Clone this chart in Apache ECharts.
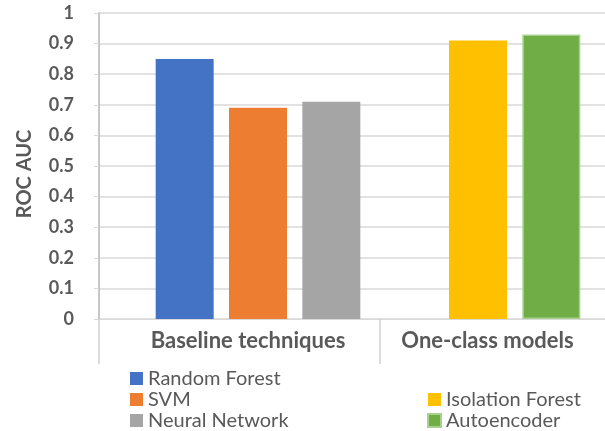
<!DOCTYPE html>
<html>
<head>
<meta charset="utf-8">
<script src="https://cdn.jsdelivr.net/npm/echarts@6/dist/echarts.min.js"></script>
<style>
  html, body { margin: 0; padding: 0; background: #ffffff; }
  #chart { width: 605px; height: 431px; }
</style>
</head>
<body>
<div id="chart"></div>
<script>
// Category groups and the methods evaluated in each
const groups = ['Baseline techniques', 'One-class models'];
const methods = ['Random Forest', 'SVM', 'Neural Network', 'Isolation Forest', 'Autoencoder'];
const methodGroup = [0, 0, 0, 1, 1];
// ROC AUC per method
const rocAuc = [0.85, 0.69, 0.71, 0.91, 0.93];
// Y axis range and step
const yMin = 0, yMax = 1, yStep = 0.1;

const colors = ['#4472C4', '#ED7D31', '#A5A5A5', '#FFC000', '#70AD47'];
const FONT = 'Lato';
const TEXT = '#595959';

// Bar slots: methods of each group side by side, one empty slot between groups
const slots = [];
groups.forEach((g, gi) => {
  if (gi > 0) slots.push(' ');
  methods.forEach((m, mi) => { if (methodGroup[mi] === gi) slots.push(m); });
});

const series = methods.map((m, i) => ({
  name: m,
  type: 'bar',
  xAxisIndex: 1,
  yAxisIndex: 1,
  barWidth: 58,
  barGap: '-100%',
  itemStyle: i === 4
    ? { color: colors[i], borderColor: '#A9D18E', borderWidth: 1.5 }
    : { color: colors[i] },
  data: [[m, rocAuc[i]]]
}));

const legendText = { fontFamily: FONT, fontSize: 20, color: TEXT, lineHeight: 21 };

const chart = echarts.init(document.getElementById('chart'), null, { renderer: 'canvas' });
chart.setOption({
  animation: false,
  backgroundColor: '#ffffff',
  color: colors,
  grid: [
    // frame grid: runs past the right edge of the canvas
    { left: 99, width: 562, top: 13, bottom: 112, containLabel: false, outerBoundsMode: 'none' },
    // bar grid: evenly spaced bar slots
    { left: 148, right: 17, top: 13, bottom: 112, containLabel: false, outerBoundsMode: 'none' }
  ],
  xAxis: [
    {
      gridIndex: 0,
      type: 'category',
      data: groups,
      axisLine: { lineStyle: { color: '#D9D9D9', width: 1 } },
      axisTick: { show: true, interval: 0, length: 45, lineStyle: { color: '#D0D0D0', width: 1.5 } },
      axisLabel: {
        interval: 0,
        margin: 11,
        formatter: (v, i) => (i === 0 ? '{a|' + v + '}' : '{b|' + v + '}'),
        rich: {
          a: { fontFamily: FONT, fontWeight: 'bold', fontSize: 22, color: TEXT, padding: [0, 0, 0, 17] },
          b: { fontFamily: FONT, fontWeight: 'bold', fontSize: 22, color: TEXT, padding: [0, 66, 0, 0] }
        }
      }
    },
    {
      gridIndex: 1,
      type: 'category',
      data: slots,
      show: false
    }
  ],
  yAxis: [
    {
      gridIndex: 0,
      type: 'value',
      min: yMin, max: yMax, interval: yStep,
      name: 'ROC AUC',
      nameLocation: 'middle',
      nameGap: 64,
      nameTextStyle: { fontFamily: FONT, fontWeight: 'bold', fontSize: 20, color: TEXT, padding: [0, 16, 0, 0] },
      axisLine: { show: true, lineStyle: { color: '#B4B4B4', width: 1.5 } },
      axisTick: { show: true, length: 5, lineStyle: { color: '#D9D9D9' } },
      axisLabel: { margin: 25, fontFamily: FONT, fontWeight: 'bold', fontSize: 18, color: TEXT },
      splitLine: { show: true, lineStyle: { color: '#D9D9D9', width: 1.5 } }
    },
    {
      gridIndex: 1,
      type: 'value',
      min: yMin, max: yMax, interval: yStep,
      show: false,
      splitLine: { show: false }
    }
  ],
  legend: [
    {
      data: methods.filter((m, i) => methodGroup[i] === 0),
      orient: 'vertical',
      left: 130, top: 368, height: 70, padding: 0,
      itemWidth: 13, itemHeight: 13, itemGap: 0,
      icon: 'rect',
      textStyle: legendText
    },
    {
      data: methods.filter((m, i) => methodGroup[i] === 1),
      orient: 'vertical',
      left: 427, top: 389, height: 50, padding: 0,
      itemWidth: 13, itemHeight: 13, itemGap: 0,
      icon: 'rect',
      textStyle: legendText
    }
  ],
  series: series
});
</script>
</body>
</html>
